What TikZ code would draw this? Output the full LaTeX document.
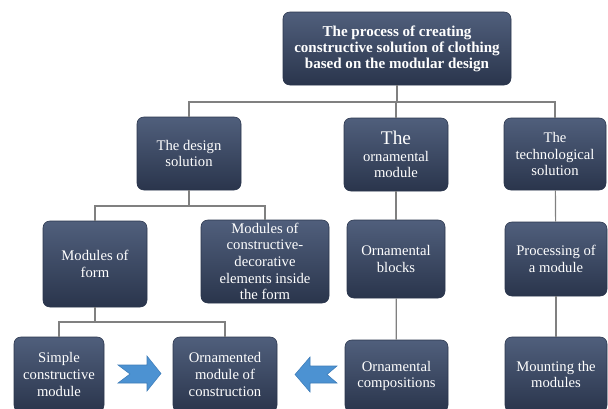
\documentclass[tikz,border=0pt]{standalone}
\usepackage{fontspec}
\setmainfont{Liberation Serif}
\usepackage{tikz}

\definecolor{boxtop}{RGB}{80,95,124}
\definecolor{boxbot}{RGB}{42,53,76}
\definecolor{linegray}{RGB}{128,128,128}
\definecolor{arrowblue}{RGB}{76,146,210}
\definecolor{arrowedge}{RGB}{62,124,184}

\tikzset{
  box/.style={rounded corners=5pt, top color=boxtop, bottom color=boxbot,
    draw=boxbot, text=white, align=center, inner xsep=2pt, inner ysep=0pt,
    font=\fontsize{11}{12.5}\selectfont},
  link/.style={draw=linegray, line width=0.9pt},
  bigarrow/.style={fill=arrowblue, draw=arrowedge, line width=0.4pt}
}

\begin{document}
\begin{tikzpicture}[x=0.75pt, y=-0.75pt]
\useasboundingbox (0,0) rectangle (608,408);

% Level 1
\node[box, minimum width=171pt, minimum height=54.75pt,
  font=\bfseries\fontsize{11.3}{12}\selectfont] (process) at (397,48.5)
  {The process of creating\\constructive solution of clothing\\based on the modular design};

% Level 2
\node[box, minimum width=78pt, minimum height=54.75pt] (design) at (189,153.5)
  {The design\\solution};
\node[box, minimum width=78pt, minimum height=54.75pt] (ornmod) at (396,154.5)
  {{\fontsize{14.5}{15}\selectfont The}\\ornamental\\module};
\node[box, minimum width=76.5pt, minimum height=54pt] (techsol) at (555,154)
  {The\\technological\\solution};

% Level 3
\node[box, minimum width=78pt, minimum height=64.5pt] (modform) at (95,264)
  {Modules of\\form};
\node[box, minimum width=96pt, minimum height=62.25pt] (modcons) at (265,261.5)
  {Modules of\\constructive-\\decorative\\elements inside\\the form};
\node[box, minimum width=73.5pt, minimum height=58.5pt] (ornblocks) at (396,259)
  {Ornamental\\blocks};
\node[box, minimum width=76.5pt, minimum height=55.5pt] (processing) at (556,259)
  {Processing of\\a module};

% Level 4
\node[box, minimum width=67.5pt, minimum height=56.25pt] (simple) at (59,374.5)
  {Simple\\constructive\\module};
\node[box, minimum width=78pt, minimum height=56.25pt] (ornamented) at (225,374.5)
  {Ornamented\\module of\\construction};
\node[box, minimum width=77.25pt, minimum height=54pt] (orncomp) at (396.5,376)
  {Ornamental\\compositions};
\node[box, minimum width=76.5pt, minimum height=56.25pt] (mounting) at (556,374.5)
  {Mounting the\\modules};

% connectors
\coordinate (bus1) at (397,102);
\coordinate (bus2) at (189,206);
\coordinate (bus3) at (95,322);
\draw[link] (process) -- (bus1);
\draw[link] (bus1) -| (design.north);
\draw[link] (bus1) -| (ornmod.north);
\draw[link] (bus1) -| (techsol.north);
\draw[link] (design) -- (bus2);
\draw[link] (bus2) -| (modform.north);
\draw[link] (bus2) -| (modcons.north);
\draw[link] (modform) -- (bus3);
\draw[link] (bus3) -| (simple.north);
\draw[link] (bus3) -| (ornamented.north);
\draw[link] (ornmod) -- (ornblocks);
\draw[link] (ornblocks) -- (orncomp);
\draw[link] (techsol) -- (processing);
\draw[link] (processing) -- (mounting);

% block arrows
\filldraw[bigarrow] (118,365) -- (147,365) -- (147,356) -- (161,373.5) -- (147,391)
  -- (147,383) -- (118,383) -- (130,374) -- cycle;
\filldraw[bigarrow] (337,366) -- (310,366) -- (310,357) -- (295,374.5) -- (310,392)
  -- (310,383) -- (337,383) -- (327,374.5) -- cycle;

\end{tikzpicture}
\end{document}
